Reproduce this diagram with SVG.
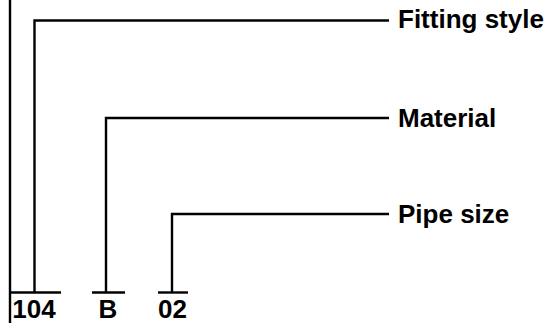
<svg xmlns="http://www.w3.org/2000/svg" width="551" height="323" viewBox="0 0 551 323">
<style>
.ln{fill:none;stroke:#000;stroke-width:2.4;stroke-linecap:butt;stroke-linejoin:miter}
.t{font-family:"Liberation Sans",Arial,sans-serif;font-weight:bold;font-size:26px;fill:#000}
.c{text-anchor:middle}
</style>
<rect width="551" height="323" fill="#fff"/>
<g id="connectors">
<line class="ln" x1="10" y1="0" x2="10" y2="323"/>
<polyline class="ln" points="389,20.5 34.5,20.5 34.5,292.5"/>
<polyline class="ln" points="389,118 106,118 106,292.5"/>
<polyline class="ln" points="389,214 172,214 172,292.5"/>
<line class="ln" x1="9" y1="292.5" x2="61" y2="292.5"/>
<line class="ln" x1="92" y1="292.5" x2="125" y2="292.5"/>
<line class="ln" x1="158" y1="292.5" x2="188" y2="292.5"/>
</g>
<g id="label-fitting-style"><text class="t" x="398" y="27.5">Fitting style</text></g>
<g id="label-material"><text class="t" x="398" y="127">Material</text></g>
<g id="label-pipe-size"><text class="t" x="398" y="222.5">Pipe size</text></g>
<g id="code-104"><text class="t c" x="34" y="317.5">104</text></g>
<g id="code-B"><text class="t c" x="108" y="317.5">B</text></g>
<g id="code-02"><text class="t c" x="172.5" y="317.5">02</text></g>
</svg>
